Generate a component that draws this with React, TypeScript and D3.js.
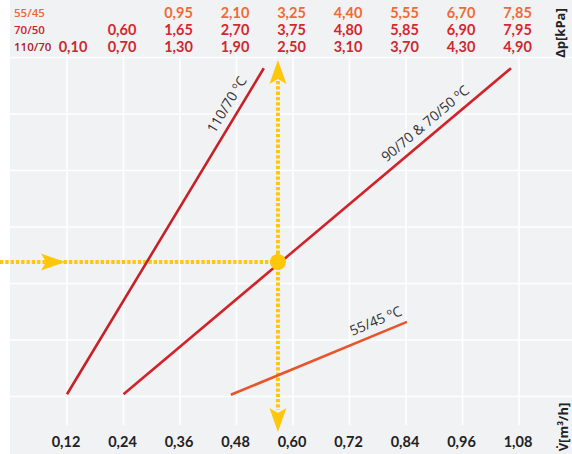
import React from "react";
import * as d3 from "d3";

// ---- data ----
const xTicks = [0.12, 0.24, 0.36, 0.48, 0.6, 0.72, 0.84, 0.96, 1.08];
const yGrid = [0, 1, 2, 3, 4, 5, 6];

const rowNames = ["55/45", "70/50", "110/70"];
const dp5545 = [null, null, 0.95, 2.1, 3.25, 4.4, 5.55, 6.7, 7.85];
const dp7050 = [null, 0.6, 1.65, 2.7, 3.75, 4.8, 5.85, 6.9, 7.95];
const dp11070 = [0.1, 0.7, 1.3, 1.9, 2.5, 3.1, 3.7, 4.3, 4.9];

// curves: [flow m3/h, chart units]
const line11070 = [[0.12, 0.04], [0.538, 5.81]];
const line9070 = [[0.24, 0.04], [1.063, 5.81]];
const line5545 = [[0.468, 0.03], [0.842, 1.32]];
const lineLabels = ["110/70 ºC", "90/70 & 70/50 ºC", "55/45 ºC"];

const operatingPoint = [0.568, 2.38];

const W = 572, H = 454;
const FONT = "'Open Sans', 'Noto Sans', sans-serif";
const TFONT = "Lato, 'Open Sans', sans-serif";

export default function App() {
  const x = d3.scaleLinear().domain([0, 1.2]).range([10.5, 575.5]);
  const y = d3.scaleLinear().domain([0, 6]).range([396.5, 57.5]);
  const lineGen = d3.line<number[]>().x((d) => x(d[0])).y((d) => y(d[1]));

  const curves = [
    { pts: line11070, color: "#c62129", label: lineLabels[0], t: 0.868 },
    { pts: line9070, color: "#d2232b", label: lineLabels[1], t: 0.8 },
    { pts: line5545, color: "#e9552a", label: lineLabels[2], t: 0.85 },
  ];

  const rows = [
    { name: rowNames[0], vals: dp5545, color: "#ef6a36", labelColor: "#ef6a36" },
    { name: rowNames[1], vals: dp7050, color: "#d7262e", labelColor: "#d2232b" },
    { name: rowNames[2], vals: dp11070, color: "#cc2a30", labelColor: "#a8232c" },
  ];
  const rowY = [18, 35, 52];

  const fmt = (v: number) => v.toFixed(2).replace(".", ",");

  const yellow = "#ffc70a";
  const px = x(operatingPoint[0]);
  const py = y(operatingPoint[1]);
  const topTip = 60, topBase = 83, botBase = 408, botTip = 432;
  const hTip = 65;

  const dart = (tipX: number, tipY: number, dir: "up" | "down" | "right") => {
    const L = 24, hw = 8.5, notch = 5;
    if (dir === "up")
      return `M${tipX},${tipY} L${tipX + hw},${tipY + L} L${tipX},${tipY + L - notch} L${tipX - hw},${tipY + L} Z`;
    if (dir === "down")
      return `M${tipX},${tipY} L${tipX + hw},${tipY - L} L${tipX},${tipY - L + notch} L${tipX - hw},${tipY - L} Z`;
    return `M${tipX},${tipY} L${tipX - L},${tipY - hw} L${tipX - L + notch},${tipY} L${tipX - L},${tipY + hw} Z`;
  };

  return (
    <svg
      width={W}
      height={H}
      style={{ position: "absolute", left: 0, top: 0, fontFamily: FONT }}
    >
      <rect x={0} y={0} width={W} height={H} fill="#ffffff" />
      <rect x={10} y={0} width={W - 10} height={H} fill="#f1f2f4" />

      {/* grid */}
      {yGrid.map((g) => (
        <line key={"h" + g} x1={10} x2={W} y1={y(g)} y2={y(g)} stroke="#ffffff" strokeWidth={1.6} />
      ))}
      {xTicks.map((t) => (
        <line key={"v" + t} x1={x(t)} x2={x(t)} y1={55} y2={425} stroke="#ffffff" strokeWidth={1.6} />
      ))}

      {/* top table */}
      {rows.map((r, ri) => (
        <g key={r.name}>
          <text x={14} y={rowY[ri] - 1} fontSize={11.5} fontWeight={600} fill={r.labelColor}>
            {r.name}
          </text>
          {r.vals.map((v, i) =>
            v == null ? null : (
              <text
                key={i}
                x={Math.max(x(xTicks[i]) - 1.5, 73)}
                y={rowY[ri]}
                fontSize={14.5}
                fontWeight={700}
                fill={r.color}
                textAnchor="middle"
                style={{ fontFamily: TFONT }}
              >
                {fmt(v)}
              </text>
            )
          )}
        </g>
      ))}

      {/* x tick labels */}
      {xTicks.map((t) => (
        <text key={"xt" + t} x={x(t) - 1} y={447} fontSize={14.5} fontWeight={700} fill="#222" textAnchor="middle" style={{ fontFamily: TFONT }}>
          {fmt(t)}
        </text>
      ))}

      {/* axis labels */}
      <text transform="translate(565,33) rotate(-90)" fontSize={13} fontWeight={700} fill="#222" textAnchor="middle">
        Δp[kPa]
      </text>
      <text transform="translate(568,427) rotate(-90)" fontSize={13} fontWeight={700} fill="#222" textAnchor="middle">
        V̇[m³/h]
      </text>

      {/* yellow reading guides */}
      <line x1={0} x2={px} y1={py} y2={py} stroke={yellow} strokeWidth={4} strokeDasharray="3.3,2" />
      <line x1={px} x2={px} y1={topBase - 2} y2={botBase + 2} stroke={yellow} strokeWidth={4} strokeDasharray="3.3,2" />

      {/* curves */}
      {curves.map((c) => (
        <path key={c.label} d={lineGen(c.pts) || ""} fill="none" stroke={c.color} strokeWidth={2.6} />
      ))}

      {/* curve labels */}
      {curves.map((c) => {
        const x0 = x(c.pts[0][0]), y0 = y(c.pts[0][1]);
        const x1 = x(c.pts[1][0]), y1 = y(c.pts[1][1]);
        const ang = (Math.atan2(y1 - y0, x1 - x0) * 180) / Math.PI;
        const lx = x0 + (x1 - x0) * c.t;
        const ly = y0 + (y1 - y0) * c.t;
        return (
          <text
            key={"l" + c.label}
            transform={`translate(${lx},${ly}) rotate(${ang})`}
            dy={-8}
            fontSize={14}
            fill="#333"
            textAnchor="middle"
          >
            {c.label}
          </text>
        );
      })}

      {/* arrows and point */}
      <path d={dart(hTip, py, "right")} fill={yellow} />
      <path d={dart(px, topTip, "up")} fill={yellow} />
      <path d={dart(px, botTip, "down")} fill={yellow} />
      <circle cx={px} cy={py} r={8} fill={yellow} />
    </svg>
  );
}
